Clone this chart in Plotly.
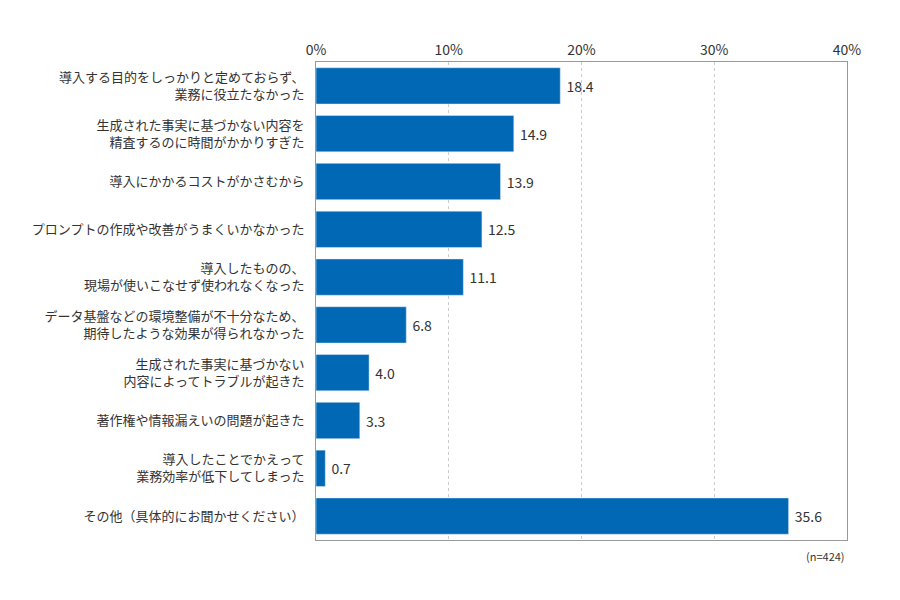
import plotly.graph_objects as go

categories = [
    "導入する目的をしっかりと定めておらず、<br>業務に役立たなかった",
    "生成された事実に基づかない内容を<br>精査するのに時間がかかりすぎた",
    "導入にかかるコストがかさむから",
    "プロンプトの作成や改善がうまくいかなかった",
    "導入したものの、<br>現場が使いこなせず使われなくなった",
    "データ基盤などの環境整備が不十分なため、<br>期待したような効果が得られなかった",
    "生成された事実に基づかない<br>内容によってトラブルが起きた",
    "著作権や情報漏えいの問題が起きた",
    "導入したことでかえって<br>業務効率が低下してしまった",
    "その他（具体的にお聞かせください）",
]
values = [18.4, 14.9, 13.9, 12.5, 11.1, 6.8, 4.0, 3.3, 0.7, 35.6]
tick_vals = [0, 10, 20, 30, 40]
tick_text = ["0%", "10%", "20%", "30%", "40%"]

font_family = "Noto Sans CJK JP"

fig = go.Figure()
fig.add_trace(go.Bar(
    x=values,
    y=categories,
    orientation="h",
    marker=dict(color="#0068b5"),
    text=[f" {v:.1f}" for v in values],
    textposition="outside",
    textfont=dict(size=14, color="#333333"),
    cliponaxis=False,
))

# the page body adds 8px around the figure, so margins are shifted to match
fig.update_layout(
    width=900, height=600,
    margin=dict(l=308, r=61, t=54, b=68, autoexpand=False),
    plot_bgcolor="white",
    paper_bgcolor="white",
    font=dict(family=font_family, size=13, color="#333333"),
    bargap=0.24,
    showlegend=False,
    annotations=[dict(
        text="(n=424)", x=1, y=-0.012, xref="paper", yref="paper",
        xanchor="right", yanchor="top", showarrow=False,
        font=dict(size=11, color="#333333"),
    )],
)

fig.update_xaxes(
    range=[0, 40], side="top",
    tickvals=tick_vals, ticktext=tick_text,
    tickfont=dict(size=14, color="#333333"),
    showgrid=True, gridcolor="#cccccc", griddash="dot", gridwidth=1,
    showline=True, linecolor="#999999", mirror=True,
    zeroline=False, ticks="", automargin=False,
)
fig.update_yaxes(
    autorange="reversed",
    showline=True, linecolor="#999999", mirror=True,
    ticks="", ticklabelstandoff=8, automargin=False,
    tickfont=dict(size=13, color="#333333"),
)

fig.write_html("out.html")
